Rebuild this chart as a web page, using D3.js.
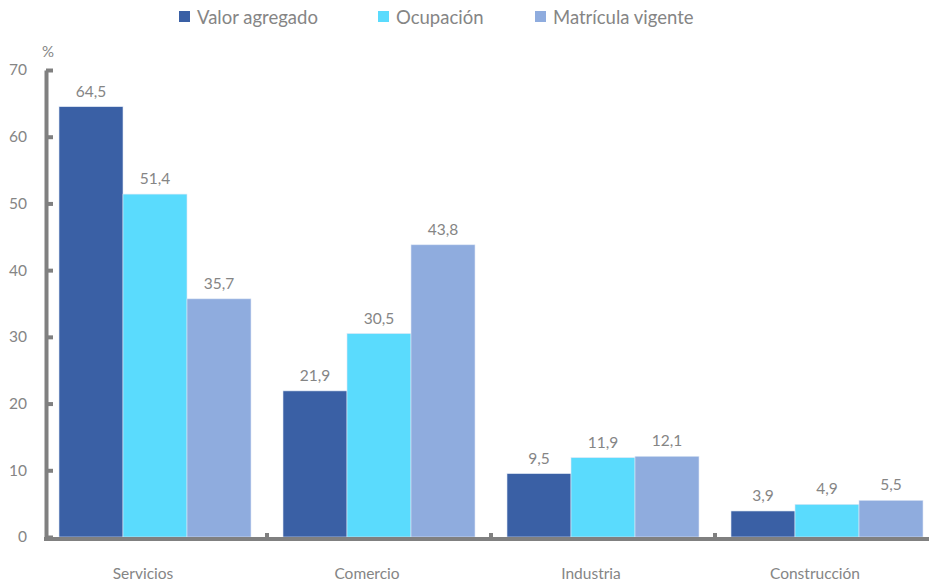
<!DOCTYPE html>
<html><head><meta charset="utf-8">
<script src="https://cdn.jsdelivr.net/npm/d3@7"></script>
<style>body{margin:0;background:#fff}svg{display:block}text{font-family:Lato,"Open Sans",sans-serif;fill:#858585}</style>
</head><body><svg id="c" width="929" height="583"></svg>
<script>
const categories = ["Servicios","Comercio","Industria","Construcción"];
const seriesNames = ["Valor agregado","Ocupación","Matrícula vigente"];
const valorAgregado = [64.5,21.9,9.5,3.9];
const ocupacion = [51.4,30.5,11.9,4.9];
const matricula = [35.7,43.8,12.1,5.5];
const yTicks = [0,10,20,30,40,50,60,70];
const colors = ["#3A60A5","#5ADBFD","#8FACDE"];
const seriesValues = [valorAgregado, ocupacion, matricula];

const svg = d3.select("#c");
const fmt = v => d3.format(".1f")(v).replace(".", ",");
const y = d3.scaleLinear().domain([0,70]).range([537,70]);
const x0 = d3.scaleBand().domain(categories).range([43,939]);
const x1 = d3.scaleBand().domain(seriesNames).range([16,208]);

// bars
categories.forEach((c,ci)=>{
  const g = svg.append("g").attr("transform",`translate(${x0(c)},0)`);
  seriesNames.forEach((s,si)=>{
    const v = seriesValues[si][ci];
    g.append("rect").attr("x",x1(s)).attr("width",x1.bandwidth())
      .attr("y",y(v)).attr("height",y(0)-y(v))
      .attr("fill",colors[si]).attr("stroke","#dfe8f5").attr("stroke-width",0.6);
    g.append("text").attr("x",x1(s)+x1.bandwidth()/2).attr("y",y(v)-10)
      .attr("text-anchor","middle").style("font-size","15.5px").text(fmt(v));
  });
});

// y axis
const ya = svg.append("g").attr("transform","translate(46,0)")
  .call(d3.axisLeft(y).tickValues(yTicks).tickSize(-7).tickSizeOuter(0).tickPadding(19).tickFormat(d3.format("d")));
ya.select(".domain").attr("stroke","#808080").attr("stroke-width",4);
ya.selectAll(".tick line").attr("stroke","#808080").attr("stroke-width",4);
ya.selectAll(".tick text").style("font-size","15.5px").attr("fill","#858585").style("font-family","Lato,sans-serif");
svg.append("text").attr("x",48).attr("y",57).attr("text-anchor","middle").style("font-size","15px").text("%");

// x baseline + category ticks
svg.append("line").attr("x1",44).attr("x2",929).attr("y1",539).attr("y2",539)
  .attr("stroke","#808080").attr("stroke-width",4);
categories.slice(1).forEach(c=>{
  svg.append("line").attr("x1",x0(c)).attr("x2",x0(c)).attr("y1",533).attr("y2",539)
    .attr("stroke","#808080").attr("stroke-width",4);
});
categories.forEach(c=>{
  svg.append("text").attr("x",x0(c)+x0.bandwidth()/2).attr("dx",-12).attr("y",579)
    .attr("text-anchor","middle").style("font-size","15.5px").text(c);
});

// legend
const legX = [179,378,535];
seriesNames.forEach((s,i)=>{
  svg.append("rect").attr("x",legX[i]).attr("y",11).attr("width",11).attr("height",11).attr("fill",colors[i]);
  svg.append("text").attr("x",legX[i]+18).attr("y",24).style("font-size","18.5px").text(s);
});
</script></body></html>
